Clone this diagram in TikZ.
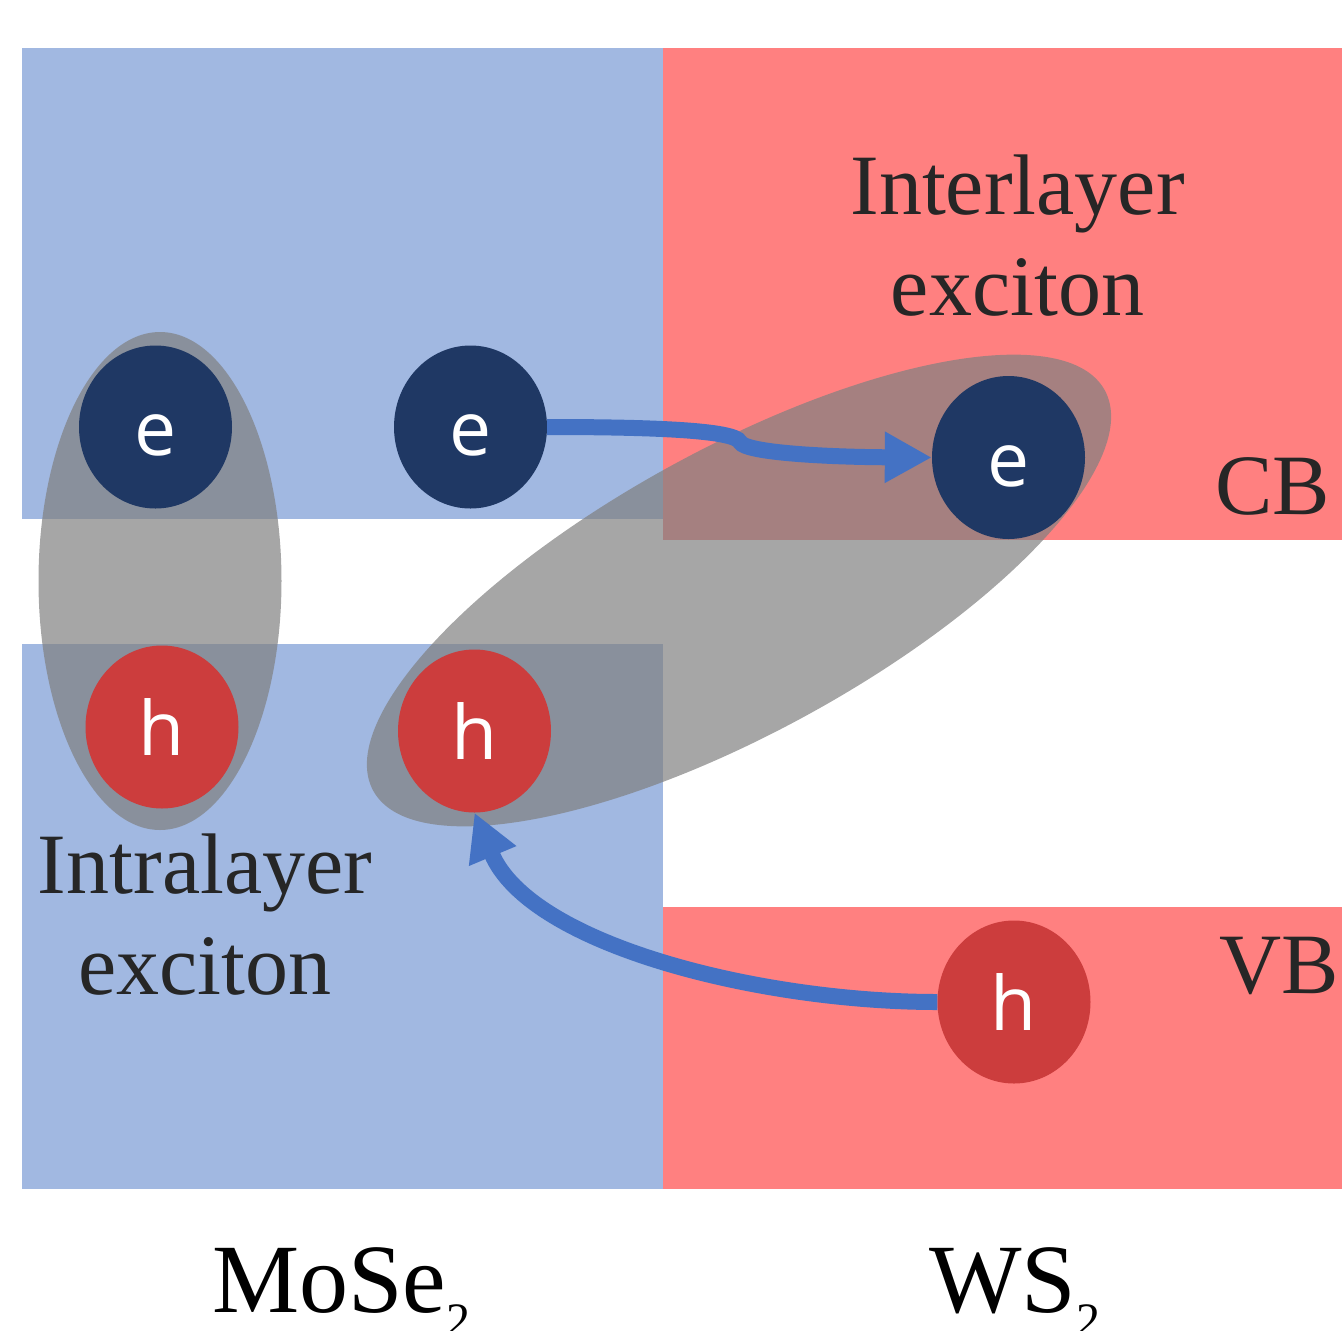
\documentclass[tikz,border=0pt]{standalone}
\usepackage{fontspec}
\setmainfont{Liberation Serif}
\newfontfamily\carrierfont{Open Sans}
\usepackage{xcolor}
\usepackage{tikz}
\usetikzlibrary{arrows.meta,shapes.geometric}

\definecolor{mosefill}{RGB}{161,184,225}
\definecolor{wsfill}{RGB}{255,128,128}
\definecolor{elecfill}{RGB}{31,56,100}
\definecolor{holefill}{RGB}{204,61,61}
\definecolor{flowblue}{RGB}{68,114,196}
\definecolor{labeltext}{RGB}{38,38,38}

\begin{document}
\begin{tikzpicture}[x=1pt, y=-1pt,
    excitoncloud/.style={fill=black!50, fill opacity=0.7},
    carrier/.style={ellipse, minimum width=153pt, minimum height=163pt, inner sep=0pt,
      text=white, font=\carrierfont\fontsize{75}{75}\selectfont,
      text height=57pt, text depth=0pt},
    electron/.style={carrier, fill=elecfill},
    hole/.style={carrier, fill=holefill},
    transfer/.style={draw=flowblue, line width=16pt, -{Triangle[length=47pt,width=48pt]}},
    caption/.style={text=labeltext, align=center, inner sep=0pt,
      font=\fontsize{86}{101}\selectfont},
    material/.style={anchor=base west, inner sep=0pt, font=\fontsize{98}{98}\selectfont},
  ]
  \useasboundingbox (0,0) rectangle (1342,1331);

  % bands, MoSe2 on the left and WS2 on the right
  \fill[mosefill] (22,48) rectangle (663,519);
  \fill[mosefill] (22,644) rectangle (663,1189);
  \fill[wsfill] (663,48) rectangle (1342,540);
  \fill[wsfill] (663,907) rectangle (1342,1189);

  % exciton clouds
  \fill[excitoncloud] (160,581) ellipse [x radius=121.5, y radius=249];
  \fill[excitoncloud, rotate around={28.7:(739,590.5)}] (739,590.5)
    ellipse [x radius=417, y radius=142];

  % electrons and holes
  \node[electron] (e1) at (155.5,427) {e};
  \node[electron] (e2) at (470.5,427) {e};
  \node[electron] (e3) at (1008.5,457.5) {e};
  \node[hole] (h1) at (162,727) {h};
  \node[hole] (h2) at (474.5,731) {h};
  \node[hole] (h3) at (1014,1002) {h};

  % charge transfer
  \coordinate (kink) at (740,442);
  \draw[transfer] (e2.east) .. controls (650,427) and (735,430) .. (kink)
    .. controls (745,453) and (830,457) .. (e3.west);
  \draw[transfer] (h3.west) .. controls (760,1002) and (530,945) .. (h2.south);

  % labels (base anchor sits on the last line)
  \node[caption, anchor=base] (inter) at (1017.5,315) {Interlayer\\exciton};
  \node[caption, anchor=base] (intra) at (205,994) {Intralayer\\exciton};
  \node[caption, anchor=base east] (cb) at (1330,514) {CB};
  \node[caption, anchor=base east] (vb) at (1339,993) {VB};
  \node[material] (mose) at (212,1312) {MoSe\raisebox{-24pt}{\fontsize{48}{48}\selectfont 2}};
  \node[material] (ws) at (929,1312) {WS\raisebox{-24pt}{\fontsize{48}{48}\selectfont 2}};
\end{tikzpicture}
\end{document}
